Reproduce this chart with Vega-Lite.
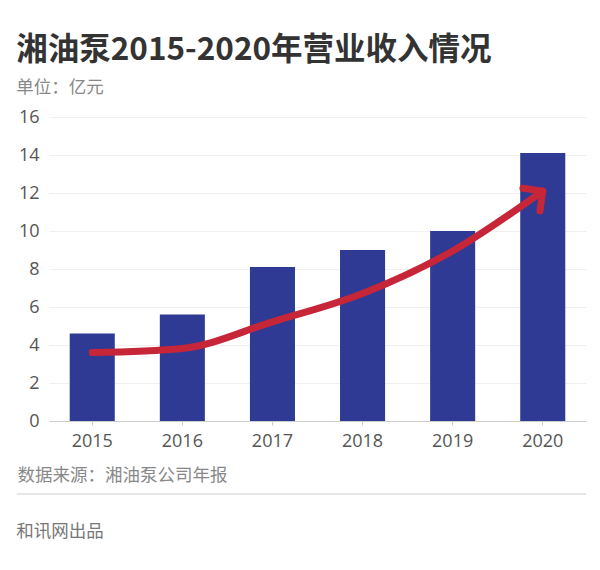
{
  "$schema": "https://vega.github.io/schema/vega-lite/v6.json",
  "padding": {"left": 16, "top": 35, "right": 12, "bottom": 8},
  "background": "white",
  "config": {"font": "Open Sans, Noto Sans CJK SC", "view": {"stroke": null}},
  "title": {"text": "湘油泵2015-2020年营业收入情况", "subtitle": "单位：亿元", "anchor": "start", "fontSize": 31.5, "fontWeight": "bold", "color": "#333", "subtitleFontSize": 17.5, "subtitleColor": "#888", "subtitlePadding": 12, "offset": 12, "font": "Noto Sans CJK SC", "subtitleFont": "Noto Sans CJK SC"},
  "columns": 1,
  "align": "none",
  "spacing": 9,
  "concat": [
    {
      "width": 537,
      "height": 304,
      "data": {"values": [
        {"year": "2015", "revenue": 4.6, "arrow": 3.6},
        {"year": "2016", "revenue": 5.6, "arrow": 3.82},
        {"year": "2017", "revenue": 8.1, "arrow": 5.22},
        {"year": "2018", "revenue": 9.0, "arrow": 6.71},
        {"year": "2019", "revenue": 10.0, "arrow": 8.95},
        {"year": "2020", "revenue": 14.1, "arrow": 12.1}
      ]},
      "layer": [
        {
          "mark": {"type": "bar", "color": "#2e3a94"},
          "encoding": {
            "x": {"field": "year", "type": "ordinal", "scale": {"paddingInner": 0.5, "paddingOuter": 0.23},
              "axis": {"labelAngle": 0, "title": "数据来源：湘油泵公司年报", "titleAnchor": "start", "titleAlign": "left", "titleX": -32, "titleFontSize": 17.5, "titleColor": "#888", "titleFontWeight": "normal", "titlePadding": 16, "titleFont": "Noto Sans CJK SC", "labelFontSize": 18, "labelColor": "#555", "domainColor": "#ccc", "tickColor": "#ccc", "tickSize": 4, "labelPadding": 7}},
            "y": {"field": "revenue", "type": "quantitative", "scale": {"domain": [0, 16]},
              "axis": {"title": null, "values": [0, 2, 4, 6, 8, 10, 12, 14, 16], "labelOverlap": false, "grid": true, "gridColor": "#f0f0f0", "domain": false, "ticks": false, "labelFontSize": 18, "labelColor": "#555", "labelPadding": 10}}
          }
        },
        {
          "mark": {"type": "line", "color": "#c62638", "strokeWidth": 7, "interpolate": "monotone", "strokeCap": "round"},
          "encoding": {
            "x": {"field": "year", "type": "ordinal",
              "axis": {"labelAngle": 0, "title": "数据来源：湘油泵公司年报", "titleAnchor": "start", "titleAlign": "left", "titleX": -32, "titleFontSize": 17.5, "titleColor": "#888", "titleFontWeight": "normal", "titlePadding": 16, "titleFont": "Noto Sans CJK SC", "labelFontSize": 18, "labelColor": "#555", "domainColor": "#ccc", "tickColor": "#ccc", "tickSize": 4, "labelPadding": 7}},
            "y": {"field": "arrow", "type": "quantitative",
              "axis": {"title": null, "values": [0, 2, 4, 6, 8, 10, 12, 14, 16], "labelOverlap": false, "grid": true, "gridColor": "#f0f0f0", "domain": false, "ticks": false, "labelFontSize": 18, "labelColor": "#555", "labelPadding": 10}}
          }
        },
        {
          "transform": [{"filter": "datum.year == '2020'"}],
          "mark": {"type": "point", "shape": "M -1 0 L 0 0 L 0 1", "angle": 8, "filled": false, "stroke": "#c62638", "strokeWidth": 7, "size": 1600, "strokeCap": "round", "strokeJoin": "round", "opacity": 1},
          "encoding": {
            "x": {"field": "year", "type": "ordinal",
              "axis": {"labelAngle": 0, "title": "数据来源：湘油泵公司年报", "titleAnchor": "start", "titleAlign": "left", "titleX": -32, "titleFontSize": 17.5, "titleColor": "#888", "titleFontWeight": "normal", "titlePadding": 16, "titleFont": "Noto Sans CJK SC", "labelFontSize": 18, "labelColor": "#555", "domainColor": "#ccc", "tickColor": "#ccc", "tickSize": 4, "labelPadding": 7}},
            "y": {"field": "arrow", "type": "quantitative",
              "axis": {"title": null, "values": [0, 2, 4, 6, 8, 10, 12, 14, 16], "labelOverlap": false, "grid": true, "gridColor": "#f0f0f0", "domain": false, "ticks": false, "labelFontSize": 18, "labelColor": "#555", "labelPadding": 10}}
          }
        }
      ]
    },
    {
      "width": 537,
      "height": 1,
      "data": {"values": [{"sep": 0, "from": -0.06, "to": 1}]},
      "mark": {"type": "rule", "color": "#ccc", "strokeWidth": 1},
      "encoding": {
        "x": {"field": "from", "type": "quantitative", "scale": {"domain": [0, 1]}, "axis": null},
        "x2": {"field": "to"},
        "y": {"field": "sep", "type": "quantitative", "scale": {"domain": [0, 1]}, "axis": null}
      },
      "title": {"text": "和讯网出品", "orient": "bottom", "anchor": "start", "fontSize": 17.5, "color": "#777", "fontWeight": "normal", "offset": 28, "font": "Noto Sans CJK SC"}
    }
  ]
}
